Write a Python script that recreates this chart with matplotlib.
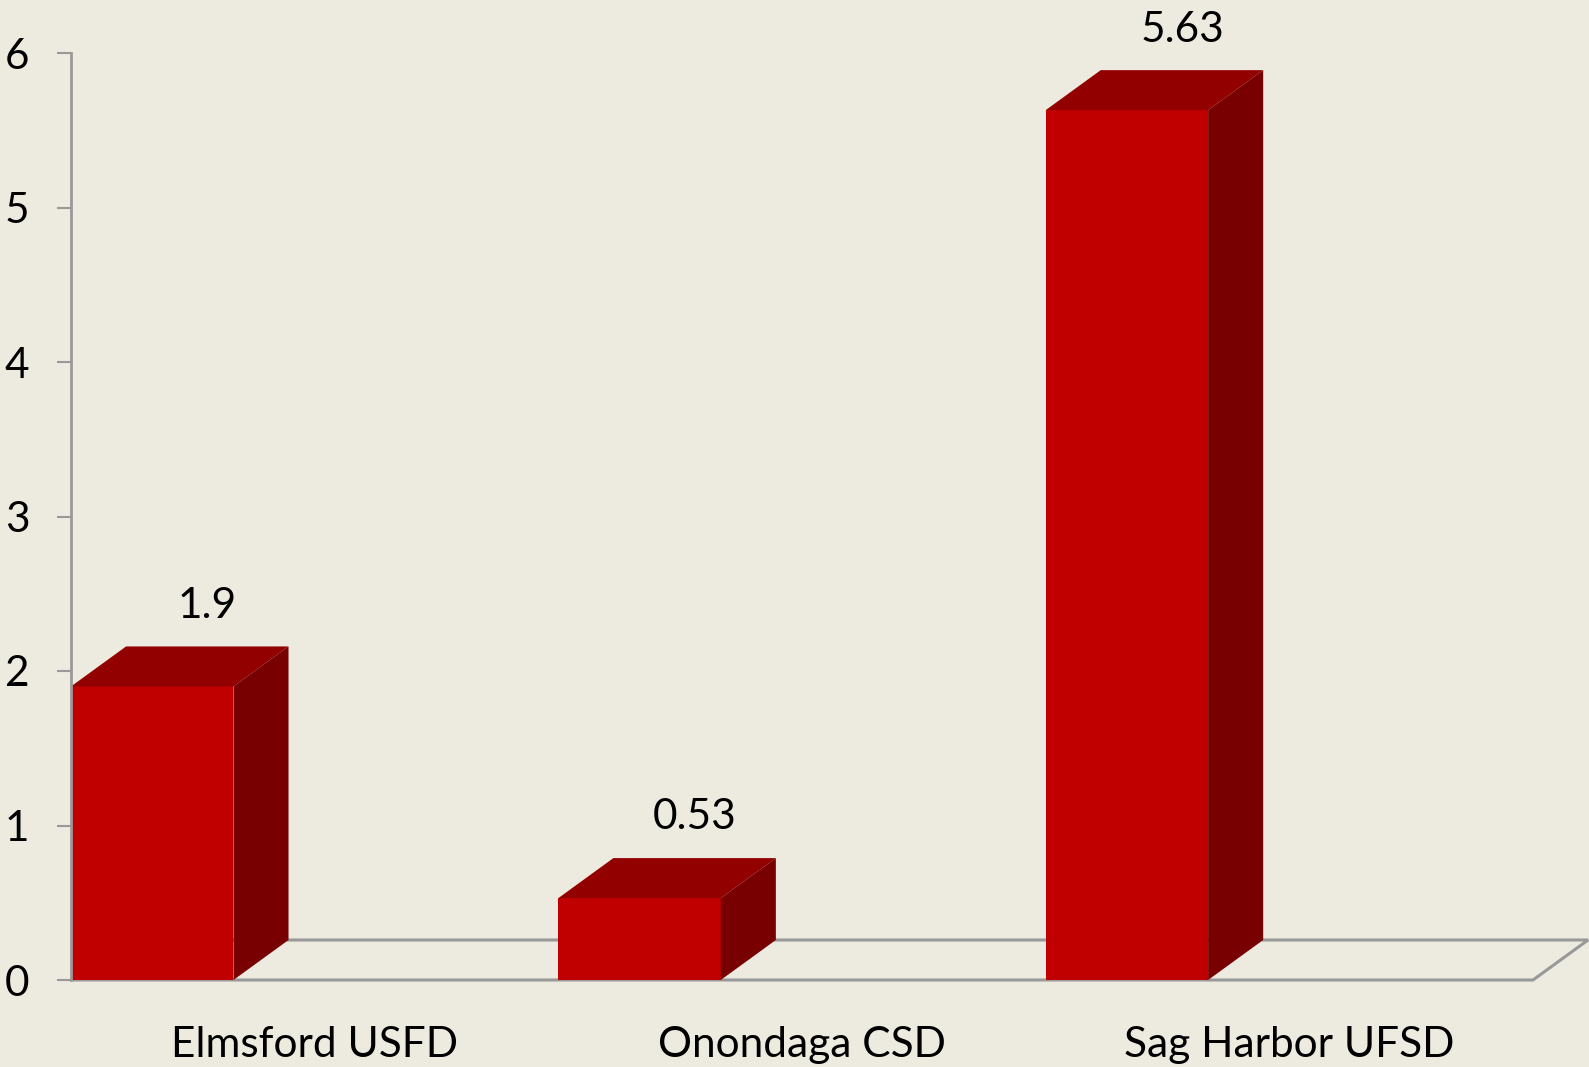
import matplotlib
matplotlib.use("Agg")
import matplotlib.pyplot as plt
from matplotlib.patches import Polygon

districts = ["Elmsford USFD", "Onondaga CSD", "Sag Harbor UFSD"]
values = [1.9, 0.53, 5.63]
y_ticks = [0, 1, 2, 3, 4, 5, 6]

bg = "#EDEBE0"
front_col = "#C00000"
top_col = "#920000"
side_col = "#780000"
grey = "#999999"

plt.rcParams['font.family'] = ['Lato', 'DejaVu Sans']
fs = 30.5

fig = plt.figure(figsize=(15.89, 10.67), dpi=100, facecolor=bg)
ax = fig.add_axes([71 / 1589, 87 / 1067, 1462 / 1589, 927 / 1067])
ax.set_facecolor(bg)
ax.set_xlim(0, 3)
ax.set_ylim(0, 6)

w = 1 / 3      # front face width in category units
dx = 0.113     # depth offset (x)
dy = 0.259     # depth offset (y)

# floor
floor = Polygon([(0, 0), (3, 0), (3 + dx, dy), (dx, dy)], closed=True,
                facecolor="none", edgecolor=grey, lw=2.2, clip_on=False, zorder=1)
ax.add_patch(floor)

for i, v in enumerate(values):
    x0 = i
    front = Polygon([(x0, 0), (x0 + w, 0), (x0 + w, v), (x0, v)],
                    facecolor=front_col, edgecolor="none", clip_on=False, zorder=3)
    top = Polygon([(x0, v), (x0 + w, v), (x0 + w + dx, v + dy), (x0 + dx, v + dy)],
                  facecolor=top_col, edgecolor="none", clip_on=False, zorder=3)
    side = Polygon([(x0 + w, 0), (x0 + w + dx, dy), (x0 + w + dx, v + dy), (x0 + w, v)],
                   facecolor=side_col, edgecolor="none", clip_on=False, zorder=3)
    for p in (front, top, side):
        ax.add_patch(p)
    ax.text(x0 + w / 2 + dx, v + dy + 0.14, str(v), ha="center", va="bottom",
            fontsize=fs, color="black", clip_on=False)

for s in ["top", "right", "bottom"]:
    ax.spines[s].set_visible(False)
ax.spines["left"].set_color(grey)
ax.spines["left"].set_linewidth(2)
ax.spines["left"].set_zorder(4)

ax.set_yticks(y_ticks)
ax.set_yticklabels([str(t) for t in y_ticks], fontsize=fs)
ax.tick_params(axis="y", length=10, width=1.5, color=grey, pad=20)

ax.set_xticks([i + 0.5 for i in range(len(districts))])
ax.set_xticklabels(districts, fontsize=fs)
ax.tick_params(axis="x", length=0, pad=33)

plt.savefig("out.png", dpi=100, facecolor=bg)
